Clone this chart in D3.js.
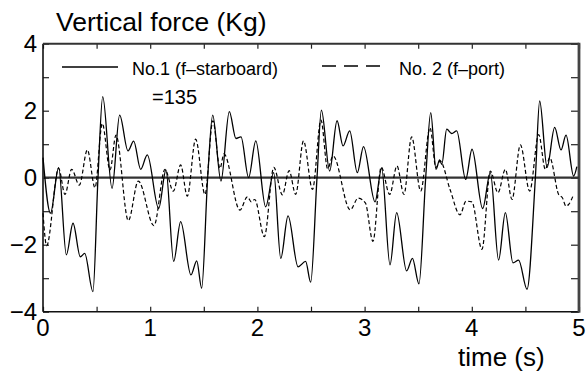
<!DOCTYPE html>
<html>
<head>
<meta charset="utf-8">
<script src="https://cdn.jsdelivr.net/npm/d3@7"></script>
<style>
  body { margin: 0; background: #fff; }
  text { font-family: "Liberation Sans", Arial, Helvetica, sans-serif; fill: #000; }
</style>
</head>
<body>
<div id="chart"></div>
<script>
// No.1 (f-starboard), solid
const timeA = [0.00, 0.07, 0.146, 0.218, 0.28, 0.348, 0.389, 0.466, 0.513, 0.557, 0.644, 0.715, 0.793, 0.846, 0.911, 0.973,
  1.079, 1.147, 1.219, 1.284, 1.38, 1.434, 1.48, 1.536, 1.583, 1.66, 1.738, 1.80, 1.847, 1.918, 1.985,
  2.077, 2.152, 2.218, 2.286, 2.379, 2.45, 2.497, 2.556, 2.597, 2.674, 2.743, 2.799, 2.861, 2.932, 2.99,
  3.097, 3.159, 3.237, 3.299, 3.392, 3.446, 3.507, 3.57, 3.617, 3.666, 3.70, 3.72, 3.766, 3.813, 3.859, 3.943,
  4.002, 4.101, 4.173, 4.25, 4.313, 4.384, 4.437, 4.515, 4.593, 4.633, 4.702, 4.773, 4.832, 4.879, 4.95, 4.98]
const forceA = [0.6, -1.06, 0.3, -2.3, -1.36, -2.36, -2.26, -3.4, 0, 2.42, -0.32, 1.87, 0.8, 1.09, 0.25, 0.68,
  -0.92, 0.23, -2.5, -1.31, -2.9, -2.48, -3.3, 0, 1.87, -0.1, 1.97, 1.17, 1.22, 0, 1.1,
  -0.87, 0.15, -2.41, -1.14, -2.66, -2.5, -3.12, 0, 2.02, 0.2, 1.7, 0.95, 1.4, 0.15, 0.93,
  -0.72, 0.28, -2.6, -1.04, -2.78, -2.41, -3.17, 0, 1.94, 0.25, 0.53, 0.4, 1.45, 1.32, 1.4, -0.05,
  0.85, -0.92, 0.15, -2.46, -1.04, -2.54, -2.46, -3.33, 0, 2.29, 0.31, 1.5, 0.83, 1.27, 0.05, 0.33]

// No. 2 (f-port), dashed
const timeB = [0.00, 0.034, 0.146, 0.205, 0.267, 0.339, 0.414, 0.485, 0.553, 0.625, 0.681, 0.796, 0.889,
  1.035, 1.138, 1.216, 1.284, 1.346, 1.424, 1.511, 1.585, 1.651, 1.688, 1.837, 1.906, 1.943, 1.975,
  2.065, 2.153, 2.233, 2.296, 2.357, 2.43, 2.514, 2.593, 2.655, 2.706, 2.866, 2.94,
  3.007, 3.078, 3.155, 3.234, 3.302, 3.367, 3.439, 3.523, 3.61, 3.666, 3.704, 3.797, 3.89, 3.946,
  4.0, 4.095, 4.173, 4.244, 4.313, 4.375, 4.453, 4.54, 4.624, 4.686, 4.727, 4.81, 4.845, 4.879, 4.903, 4.95]
const forceB = [-1.06, -2.03, 0.28, -0.5, 0.25, -0.22, 0.83, -0.3, 1.62, 0.23, 1.27, -1.28, -0.1,
  -1.43, 0.25, -0.4, 0.38, -0.55, 1.15, -0.5, 1.7, 0.28, 0.71, -0.97, -0.57, -0.72, -0.65,
  -1.76, 0.31, -0.51, 0.21, -0.5, 1.1, -0.35, 1.72, 0.27, 0.65, -0.96, -0.61,
  -0.75, -1.9, 0.32, -0.5, 0.35, -0.5, 1.22, -0.4, 1.49, 0.3, 0.5, -0.35, -1.11, -0.7,
  -0.72, -2.14, 0.2, -0.45, 0.25, -0.65, 0.98, -0.4, 1.29, 0.25, 0.6, -0.5, -0.6, -0.85, -0.8, -0.5]

const xTicks = [0, 1, 2, 3, 4, 5]
const yTicks = [-4, -2, 0, 2, 4]

const width = 586, height = 381
const svg = d3.select("#chart").append("svg").attr("width", width).attr("height", height)

const x = d3.scaleLinear().domain([0, 5]).range([43, 579])
const y = d3.scaleLinear().domain([-4, 4]).range([311.7, 43.7])

// minor ticks, inward on all four sides
const g = svg.append("g")
g.append("g").attr("transform", `translate(0,${y(-4)})`)
  .call(d3.axisBottom(x).tickValues(d3.range(0, 5.01, 0.5)).tickSizeInner(-5).tickSizeOuter(0).tickFormat(""))
g.append("g").attr("transform", `translate(0,${y(4)})`)
  .call(d3.axisTop(x).tickValues(d3.range(0, 5.01, 0.5)).tickSizeInner(-5).tickSizeOuter(0).tickFormat(""))
g.append("g").attr("transform", `translate(${x(0)},0)`)
  .call(d3.axisLeft(y).tickValues(d3.range(-4, 4.01, 1)).tickSizeInner(-6).tickSizeOuter(0).tickFormat(""))
g.append("g").attr("transform", `translate(${x(5)},0)`)
  .call(d3.axisRight(y).tickValues(d3.range(-4, 4.01, 1)).tickSizeInner(-8).tickSizeOuter(0).tickFormat(""))
g.selectAll(".domain").remove()
g.selectAll(".tick line").attr("stroke", "#222").attr("stroke-width", 1.2)

// frame
svg.append("line").attr("x1", x(0)).attr("x2", x(5)).attr("y1", y(-4)).attr("y2", y(-4)).attr("stroke", "#111").attr("stroke-width", 1.6)
svg.append("line").attr("x1", x(0)).attr("x2", x(0)).attr("y1", y(4)).attr("y2", y(-4)).attr("stroke", "#111").attr("stroke-width", 1.6)
svg.append("line").attr("x1", x(0)).attr("x2", x(5)).attr("y1", y(4)).attr("y2", y(4)).attr("stroke", "#333").attr("stroke-width", 2)
svg.append("line").attr("x1", x(5)).attr("x2", x(5)).attr("y1", y(4) - 1).attr("y2", y(-4) + 1).attr("stroke", "#444").attr("stroke-width", 2.8)

// zero line
svg.append("line").attr("x1", x(0)).attr("x2", x(5)).attr("y1", y(0)).attr("y2", y(0)).attr("stroke", "#333").attr("stroke-width", 2.2)

// tick labels
svg.selectAll(".xl").data(xTicks).enter().append("text")
  .attr("x", d => x(d)).attr("y", 336).attr("text-anchor", "middle").attr("font-size", 24)
  .text(d => d)
svg.selectAll(".yl").data(yTicks).enter().append("text")
  .attr("x", 37).attr("y", d => y(d) + 8.5).attr("text-anchor", "end").attr("font-size", 24)
  .text(d => d < 0 ? "\u2212" + Math.abs(d) : d)

// titles
svg.append("text").attr("x", 56).attr("y", 31).attr("font-size", 26.5).text("Vertical force (Kg)")
svg.append("text").attr("x", 458).attr("y", 365.5).attr("font-size", 26).text("time (s)")

// series
const line = d3.line().x(d => x(d[0])).y(d => y(d[1])).curve(d3.curveMonotoneX)
svg.append("path").datum(d3.zip(timeB, forceB)).attr("d", line)
  .attr("fill", "none").attr("stroke", "#000").attr("stroke-width", 1.2).attr("stroke-dasharray", "4,2.5")
svg.append("path").datum(d3.zip(timeA, forceA)).attr("d", line)
  .attr("fill", "none").attr("stroke", "#000").attr("stroke-width", 1.3)

// legend
svg.append("line").attr("x1", 62).attr("x2", 118).attr("y1", 67).attr("y2", 67).attr("stroke", "#000").attr("stroke-width", 1.3)
svg.append("text").attr("x", 132).attr("y", 75).attr("font-size", 18).text("No.1 (f\u2013starboard)")
svg.append("line").attr("x1", 322).attr("x2", 380).attr("y1", 66).attr("y2", 66).attr("stroke", "#000").attr("stroke-width", 1.3)
  .attr("stroke-dasharray", "14,8")
svg.append("text").attr("x", 399).attr("y", 75).attr("font-size", 18).text("No. 2 (f\u2013port)")
svg.append("text").attr("x", 152).attr("y", 104).attr("font-size", 20).text("=135")
</script>
</body>
</html>
